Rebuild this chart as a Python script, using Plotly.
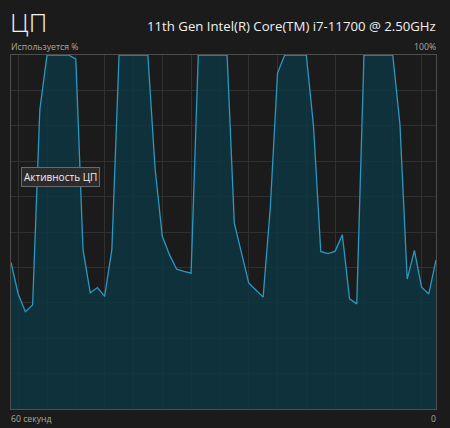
import plotly.graph_objects as go

# CPU usage, % (oldest -> newest), one sample per second
cpu_usage = [41.4, 32.5, 27.5, 29.4, 84.5, 100, 100, 100, 100, 98.8,
             45.0, 32.8, 34.3, 31.8, 45.0, 100, 100, 100, 100, 100,
             68.0, 48.8, 43.6, 39.5, 38.9, 38.4, 100, 100, 100, 100,
             100, 52.5, 44.0, 35.6, 33.6, 31.6, 57.0, 94.9, 100, 100,
             100, 100, 79.8, 44.5, 43.9, 44.6, 49.2, 31.1, 29.7, 100,
             100, 100, 100, 100, 80.3, 36.7, 44.8, 34.4, 32.5, 42.1]
seconds_ago = list(range(len(cpu_usage) - 1, -1, -1))

title_text = "ЦП"
cpu_name = "11th Gen Intel(R) Core(TM) i7-11700 @ 2.50GHz"
y_label = "Используется %"
y_max_label = "100%"
x_start_label = "60 секунд"
x_end_label = "0"
tooltip_text = "Активность ЦП"

BG = "#1b1b1b"
LINE = "#2a98bf"
FILL = "rgba(12, 55, 68, 0.78)"
GRID = "#303030"
BORDER = "#4d4d4d"
FONT = "Open Sans"

fig = go.Figure()
fig.add_trace(go.Scatter(
    x=seconds_ago, y=cpu_usage, mode="lines",
    line=dict(color=LINE, width=1.3),
    fill="tozeroy", fillcolor=FILL, hoverinfo="skip",
))

fig.update_layout(
    width=450, height=428,
    margin=dict(l=11, r=14, t=55, b=19),
    paper_bgcolor=BG, plot_bgcolor=BG,
    showlegend=False,
    font=dict(family=FONT, color="#e6e6e6"),
    xaxis=dict(range=[59, 0], showticklabels=False, ticks="",
               showgrid=True, gridcolor=GRID, gridwidth=1,
               tick0=2, dtick=4, zeroline=False,
               showline=True, mirror=True, linecolor=BORDER, linewidth=1),
    yaxis=dict(range=[0, 100], showticklabels=False, ticks="",
               showgrid=True, gridcolor=GRID, gridwidth=1,
               tick0=0, dtick=10, zeroline=False,
               showline=True, mirror=True, linecolor=BORDER, linewidth=1),
)

def note(text, x, y, xanchor, yshift, xshift, size, color, weight=None, **kw):
    f = dict(size=size, color=color, family=FONT)
    if weight:
        f["weight"] = weight
    return dict(text=text, x=x, y=y, xref="paper", yref="paper",
                xanchor=xanchor, yanchor="middle", yshift=yshift, xshift=xshift,
                showarrow=False, font=f, **kw)

annotations = [
    note(title_text, 0, 1, "left", 33, -3, 26, "#f2f2f2", weight=300),
    note(cpu_name, 1, 1, "right", 29, 2, 13.2, "#f0f0f0"),
    note(y_label, 0, 1, "left", 8, -2, 8.7, "#a8a8a8"),
    note(y_max_label, 1, 1, "right", 8, 2, 8.7, "#a8a8a8"),
    note(x_start_label, 0, 0, "left", -10, -2, 8.7, "#a8a8a8"),
    note(x_end_label, 1, 0, "right", -10, 2, 8.7, "#a8a8a8"),
    note(tooltip_text, 0, 1, "left", -122, 10, 10, "#f0f0f0",
         bgcolor="#2b2b2b", bordercolor="#6a6a6a", borderwidth=1, borderpad=2),
]
fig.update_layout(annotations=annotations)

fig.write_html(
    "out.html",
    config={"displayModeBar": False},
    post_script="document.body.style.margin='0';document.body.style.overflow='hidden';document.body.style.background='#1b1b1b';",
)
